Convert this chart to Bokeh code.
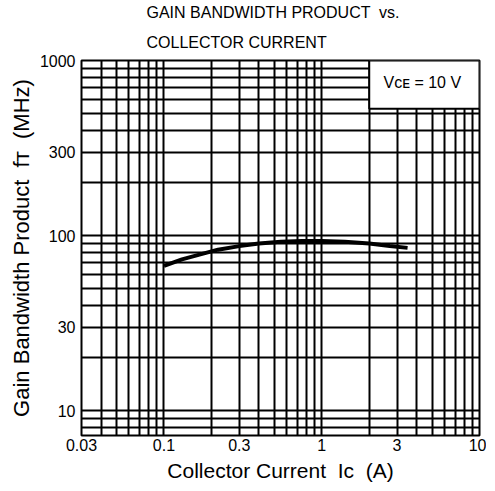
from bokeh.plotting import figure
from bokeh.models import FixedTicker, Title, CustomJSTickFormatter
from bokeh.core.properties import value
from bokeh.embed import file_html
from bokeh.resources import INLINE

# ---- data ----
ic_amp = [0.1, 0.13, 0.17, 0.22, 0.3, 0.4, 0.55, 0.75, 1.0, 1.4, 2.0, 2.7, 3.5]
ft_mhz = [67, 73, 78, 83, 87, 90, 92, 93, 93, 92, 90, 87, 85]

x_tick_values = [0.03, 0.1, 0.3, 1, 3, 10]
x_tick_labels = ["0.03", "0.1", "0.3", "1", "3", "10"]
y_tick_values = [10, 30, 100, 300, 1000]
y_tick_labels = ["10", "30", "100", "300", "1000"]

x_grid_values = [0.03, 0.04, 0.05, 0.06, 0.07, 0.08, 0.09,
                 0.1, 0.2, 0.3, 0.4, 0.5, 0.6, 0.7, 0.8, 0.9,
                 1, 2, 3, 4, 5, 6, 7, 8, 9, 10]
y_grid_values = [8, 9, 10, 20, 30, 40, 50, 60, 70, 80, 90,
                 100, 200, 300, 400, 500, 600, 700, 800, 900, 1000]

box_x = [2, 10]
box_y = [530, 1000]
box_text = "V\u1d04\u1d07 = 10 V"
box_text_pos = (4.34, 745)

NB = "\u00a0"
title_lines = ["GAIN BANDWIDTH PRODUCT " + NB + "vs.", "COLLECTOR CURRENT"]
x_label = "Collector Current " + NB + "I\u1d04 " + NB + "(A)"
y_label = "Gain Bandwidth Product " + NB + "f\u1d1b " + NB + "(MHz)"

FONT = "Liberation Sans"

p = figure(x_axis_type="log", y_axis_type="log",
           x_range=(0.03, 10), y_range=(7.2, 1000),
           width=486, height=484,
           min_border_left=81, min_border_right=7,
           min_border_top=10, min_border_bottom=49,
           output_backend="svg", toolbar_location=None)

p.background_fill_color = "white"
p.border_fill_color = "white"
p.outline_line_color = "black"
p.outline_line_width = 2

# title: first line is the outer one, second line sits next to the frame
p.title.text = title_lines[0]
p.title.align = "left"
p.title.offset = 65
p.title.text_font = FONT
p.title.text_font_size = "16px"
p.title.text_font_style = "normal"
p.title.text_color = "black"
p.title.standoff = 2
p.add_layout(Title(text=title_lines[1], align="left", offset=65,
                   text_font=FONT, text_font_size="16px",
                   text_font_style="normal", text_color="black",
                   standoff=20), "above")

# grids
p.xgrid.ticker = FixedTicker(ticks=x_grid_values)
p.ygrid.ticker = FixedTicker(ticks=y_grid_values)
for g in (p.xgrid, p.ygrid):
    g.grid_line_color = "black"
    g.grid_line_width = 2
    g.grid_line_alpha = 1.0

# axes
xmap = dict(zip([str(v) for v in x_tick_values], x_tick_labels))
ymap = dict(zip([str(v) for v in y_tick_values], y_tick_labels))
p.xaxis.ticker = FixedTicker(ticks=x_tick_values)
p.yaxis.ticker = FixedTicker(ticks=y_tick_values)
p.xaxis.formatter = CustomJSTickFormatter(args=dict(m=xmap), code="""
const k = String(tick); return (k in m) ? m[k] : k;""")
p.yaxis.formatter = CustomJSTickFormatter(args=dict(m=ymap), code="""
const k = String(tick); return (k in m) ? m[k] : k;""")

for ax in (p.xaxis, p.yaxis):
    ax.axis_line_color = None
    ax.major_tick_line_color = None
    ax.minor_tick_line_color = None
    ax.major_tick_out = 0
    ax.major_tick_in = 0
    ax.minor_tick_out = 0
    ax.minor_tick_in = 0
    ax.major_label_text_font = FONT
    ax.major_label_text_font_size = "16px"
    ax.major_label_text_color = "black"
    ax.axis_label_text_font = FONT
    ax.axis_label_text_font_style = "normal"
    ax.axis_label_text_color = "black"

p.xaxis.axis_label_text_font_size = "21px"
p.yaxis.axis_label_text_font_size = "22px"
p.xaxis.axis_label = x_label
p.yaxis.axis_label = y_label
p.xaxis.major_label_standoff = 3
p.yaxis.major_label_standoff = 6
p.xaxis.axis_label_standoff = 5
p.yaxis.axis_label_standoff = 3

# condition box
p.quad(left=[box_x[0]], right=[box_x[1]], bottom=[box_y[0]], top=[box_y[1]],
       fill_color="white", line_color="black", line_width=2)
p.text(x=[box_text_pos[0]], y=[box_text_pos[1]], text=[box_text],
       text_align="center", text_baseline="middle",
       text_font_size="16px", text_color="black",
       text_font=value(FONT))

# curve
p.line(ic_amp, ft_mhz, line_color="black", line_width=4)

open("out.html", "w").write(file_html(p, INLINE))
